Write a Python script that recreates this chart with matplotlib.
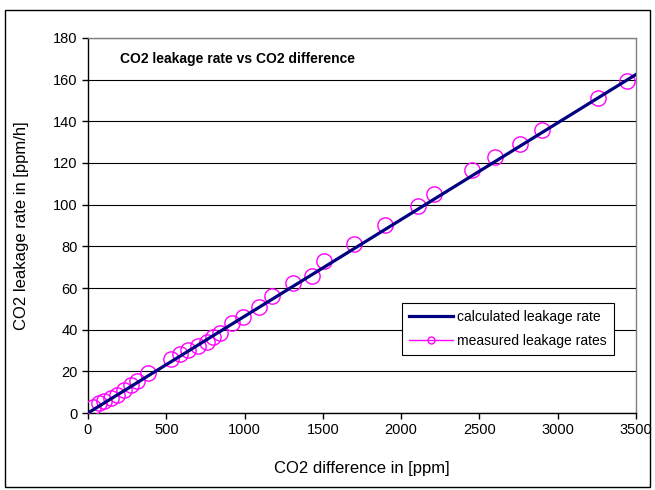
import matplotlib
matplotlib.use('Agg')
import matplotlib.pyplot as plt
from matplotlib.lines import Line2D
from matplotlib.patches import Rectangle

plt.rcParams['font.family'] = ['Liberation Sans', 'DejaVu Sans']

# measured leakage rates
co2_diff = [35, 70, 105, 145, 185, 230, 275, 315, 385, 530, 590, 640, 700, 760,
            800, 840, 920, 990, 1090, 1175, 1310, 1430, 1510, 1700, 1900, 2110,
            2210, 2450, 2600, 2760, 2900, 3260, 3445]
leak_meas = [3.0, 4.7, 5.9, 7.2, 8.7, 11.0, 13.4, 15.5, 19.0, 26.0, 28.5, 30.2,
             32.0, 34.0, 36.5, 38.5, 43.3, 46.0, 51.0, 56.3, 62.5, 66.0, 73.0,
             81.0, 90.0, 99.5, 105.3, 116.6, 123.0, 129.0, 135.8, 151.0, 159.4]

# calculated leakage rate
calc_x = [0, 3500]
calc_y = [0, 162.5]

x_ticks = [0, 500, 1000, 1500, 2000, 2500, 3000, 3500]
y_ticks = [0, 20, 40, 60, 80, 100, 120, 140, 160, 180]

fig = plt.figure(figsize=(6.55, 4.9), dpi=100)
ax = fig.add_axes([88 / 655, 1 - 413 / 490, 548 / 655, 375 / 490])

ax.plot(co2_diff, leak_meas, linestyle='none', marker='o', markersize=11,
        markerfacecolor='none', markeredgecolor='#FF00FF', markeredgewidth=1.0,
        zorder=3)
ax.plot(calc_x, calc_y, color='#000080', linewidth=2.3, zorder=4)

ax.set_xlim(0, 3500)
ax.set_ylim(0, 180)
ax.set_xticks(x_ticks)
ax.set_yticks(y_ticks)
ax.tick_params(direction='out', length=4, width=1, labelsize=10.5, color='black')
ax.yaxis.grid(True, color='black', linewidth=0.8)
ax.set_axisbelow(True)
for side in ['left', 'bottom']:
    ax.spines[side].set_color('black')
    ax.spines[side].set_linewidth(1)
for side in ['top', 'right']:
    ax.spines[side].set_color('#808080')
    ax.spines[side].set_linewidth(1)

ax.set_xlabel('CO2 difference in [ppm]', fontsize=12, labelpad=17)
ax.set_ylabel('CO2 leakage rate in [ppm/h]', fontsize=12, labelpad=17)

ax.text(0.058, 0.943, 'CO2 leakage rate vs CO2 difference', transform=ax.transAxes,
        fontsize=10, fontweight='bold', ha='left', va='center')

handles = [
    Line2D([], [], color='#000080', linewidth=2.3),
    Line2D([], [], color='#FF00FF', linewidth=1, marker='o', markersize=5,
           markerfacecolor='none', markeredgecolor='#FF00FF'),
]
leg = ax.legend(handles, ['calculated leakage rate', 'measured leakage rates'],
                loc='lower left', bbox_to_anchor=(0.56, 0.136), fontsize=10,
                fancybox=False, framealpha=1, edgecolor='black',
                handlelength=3.2, handletextpad=0.3, borderpad=0.5,
                labelspacing=0.75)
leg.get_frame().set_linewidth(0.8)

fig.patches.append(Rectangle((5 / 655, 3 / 490), 645 / 655, 477 / 490,
                             transform=fig.transFigure, fill=False,
                             edgecolor='black', linewidth=1))

fig.savefig('out.png', dpi=100)
